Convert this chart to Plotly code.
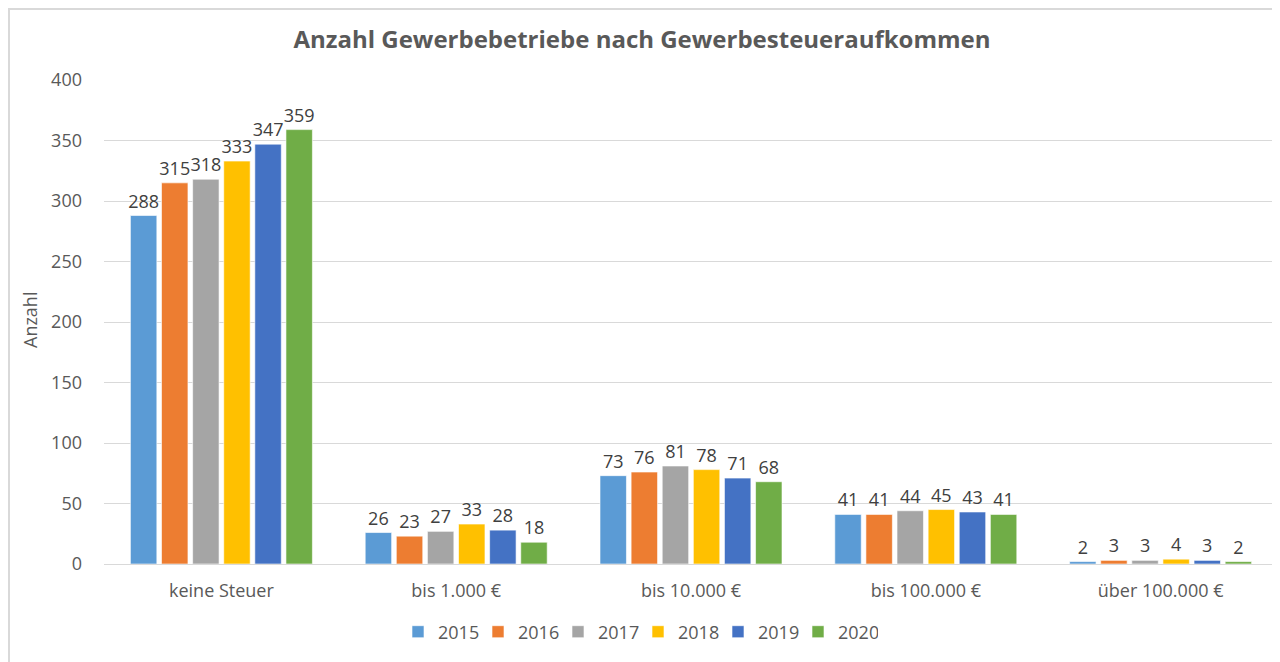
import plotly.graph_objects as go

categories = ["keine Steuer", "bis 1.000 €", "bis 10.000 €", "bis 100.000 €", "über 100.000 €"]
years = ["2015", "2016", "2017", "2018", "2019", "2020"]
v2015 = [288, 26, 73, 41, 2]
v2016 = [315, 23, 76, 41, 3]
v2017 = [318, 27, 81, 44, 3]
v2018 = [333, 33, 78, 45, 4]
v2019 = [347, 28, 71, 43, 3]
v2020 = [359, 18, 68, 41, 2]
series = [v2015, v2016, v2017, v2018, v2019, v2020]
colors = ["#5B9BD5", "#ED7D31", "#A5A5A5", "#FFC000", "#4472C4", "#70AD47"]
y_ticks = [0, 50, 100, 150, 200, 250, 300, 350, 400]

FONT = "Open Sans"
TXT = "#595959"
OFF = 8  # page body margin

fig = go.Figure()
for name, vals, col in zip(years, series, colors):
    fig.add_trace(go.Bar(
        x=categories, y=vals, name=name,
        marker=dict(color=col, line=dict(color="rgba(255,255,255,0.6)", width=1)),
        text=[str(v) for v in vals], textposition="outside",
        textfont=dict(family=FONT, size=18, color="#404040"),
        constraintext="none", cliponaxis=False,
    ))

W, H = 1280 - OFF, 662 - OFF
# plot area in screen pixels
PX0, PX1, PY0, PY1 = 104, 1278, 80, 564
L, R, T = PX0 - OFF, W - (PX1 - OFF), PY0 - OFF
B = H - (PY1 - OFF)
pw, ph = W - L - R, H - T - B


def px(xs):
    return (xs - PX0) / pw


def py(ys):
    return (PY1 - ys) / ph


fig.update_layout(
    width=W, height=H,
    margin=dict(l=L, r=R, t=T, b=B),
    paper_bgcolor="white", plot_bgcolor="white",
    barmode="group", bargap=0.205, bargroupgap=0.15,
    font=dict(family=FONT, color=TXT),
    title=dict(text="<b>Anzahl Gewerbebetriebe nach Gewerbesteueraufkommen</b>",
               x=px(642), xref="paper", xanchor="center",
               y=1 - (40 - OFF) / H, yanchor="middle",
               font=dict(family=FONT, size=24, color=TXT)),
    legend=dict(orientation="h", x=px(638), xanchor="center",
                y=py(632), yanchor="middle",
                font=dict(family=FONT, size=18, color=TXT),
                itemwidth=30, traceorder="normal",
                entrywidth=35, entrywidthmode="pixels"),
    xaxis=dict(showgrid=False, showline=False, ticks="",
               tickfont=dict(family=FONT, size=18, color=TXT),
               ticklabelstandoff=14),
    yaxis=dict(range=[0, 400], tickvals=y_ticks, showgrid=True,
               gridcolor="#d9d9d9", gridwidth=1, zeroline=True,
               zerolinecolor="#d9d9d9", zerolinewidth=1, showline=False,
               tickfont=dict(family=FONT, size=18, color=TXT),
               ticklabelstandoff=21),
    annotations=[dict(text="Anzahl", textangle=-90, xref="paper", yref="paper",
                      x=px(30), y=py(320), xanchor="center",
                      yanchor="middle", showarrow=False,
                      font=dict(family=FONT, size=18, color=TXT))],
    shapes=[dict(type="rect", xref="paper", yref="paper",
                 x0=px(OFF + 1), x1=px(1278),
                 y0=py(720), y1=py(OFF + 1),
                 line=dict(color="#d9d9d9", width=2), layer="below")],
)

fig.write_html("out.html")
